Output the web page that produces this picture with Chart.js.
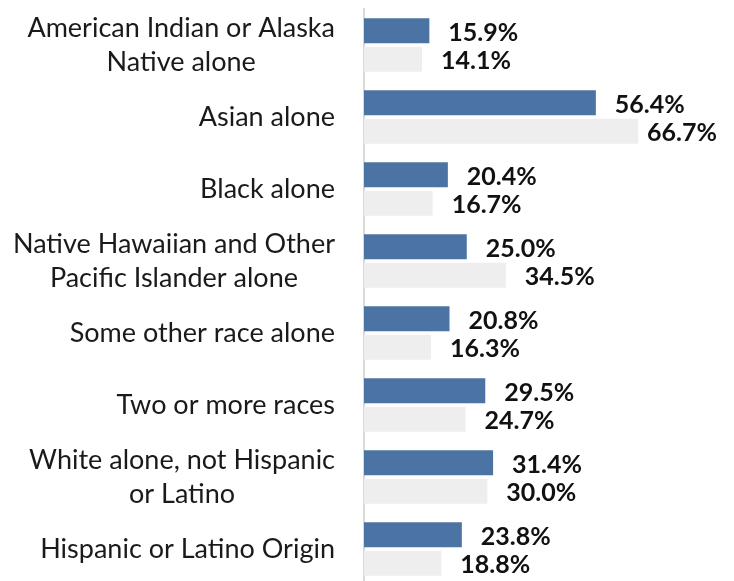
<!DOCTYPE html>
<html>
<head>
<meta charset="utf-8">
<script src="https://cdn.jsdelivr.net/npm/chart.js@4/dist/chart.umd.min.js"></script>
<style>
    html, body { margin: 0; padding: 0; background: #ffffff; overflow: hidden; }
    #wrap { position: relative; width: 734px; height: 585px; }
</style>
</head>
<body>
<div id="wrap"><canvas id="chart"></canvas></div>
<script>
const categories = [
    ['American Indian or Alaska', 'Native alone'],
    'Asian alone',
    'Black alone',
    ['Native Hawaiian and Other', 'Pacific Islander alone'],
    'Some other race alone',
    'Two or more races',
    ['White alone, not Hispanic', 'or Latino'],
    'Hispanic or Latino Origin',
];

const firstSeries = [15.9, 56.4, 20.4, 25.0, 20.8, 29.5, 31.4, 23.8];
const secondSeries = [14.1, 66.7, 16.7, 34.5, 16.3, 24.7, 30.0, 18.8];

const labelFont = '27px Lato';
const valueFont = 'bold 25px Lato';

// category names: right edge fixed, lines of a wrapped name centred on each other
const categoryLabels = {
    id: 'categoryLabels',
    afterDraw(chart) {
        let ctx = chart.ctx;
        let yScale = chart.scales.y;
        ctx.save();
        ctx.font = labelFont;
        ctx.fillStyle = '#1a1a1a';
        ctx.textAlign = 'center';
        ctx.textBaseline = 'middle';
        let right = 335;
        let lineHeight = 34;
        categories.forEach((label, i) => {
            let lines = Array.isArray(label) ? label : [label];
            let maxW = 0;
            lines.forEach(l => { maxW = Math.max(maxW, ctx.measureText(l).width); });
            let cx = right - maxW / 2;
            let y = yScale.getPixelForTick(i);
            let top = y - (lines.length - 1) * lineHeight / 2;
            lines.forEach((l, j) => {
                ctx.fillText(l, cx, top + j * lineHeight);
            });
        });
        ctx.restore();
    }
};

// percentage next to the end of each bar, pulled back if it would run off the right side
const valueLabels = {
    id: 'valueLabels',
    afterDatasetsDraw(chart) {
        let ctx = chart.ctx;
        ctx.save();
        ctx.font = valueFont;
        ctx.fillStyle = '#111111';
        ctx.textAlign = 'left';
        ctx.textBaseline = 'middle';
        let maxRight = 717;
        chart.data.datasets.forEach((dataset, d) => {
            chart.getDatasetMeta(d).data.forEach((bar, i) => {
                let text = dataset.data[i].toFixed(1) + '%';
                let w = ctx.measureText(text).width;
                let x = Math.min(bar.x + 19, maxRight - w);
                ctx.fillText(text, x, bar.y + 2);
            });
        });
        ctx.restore();
    }
};

var myChart = new Chart(
    document.getElementById('chart'),
    {
        type: 'bar',
        data: {
            labels: categories,
            datasets: [{
                data: firstSeries,
                backgroundColor: '#4b74a5',
                categoryPercentage: 0.79,
                barPercentage: 0.88,
            },
            {
                data: secondSeries,
                backgroundColor: '#eeeeee',
                categoryPercentage: 0.79,
                barPercentage: 0.88,
            }]
        },
        options: {
            indexAxis: 'y',
            responsive: true,
            maintainAspectRatio: false,
            animation: false,
            layout: {
                padding: { top: 9, right: 0, bottom: 0, left: 0 }
            },
            plugins: {
                legend: { display: false },
                tooltip: { enabled: false },
            },
            scales: {
                x: {
                    display: false,
                    min: 0,
                    max: 90,
                },
                y: {
                    grid: { display: false },
                    ticks: { display: false },
                    border: { display: true, color: '#d9d9d9', width: 2 },
                    afterFit: (scale) => { scale.width = 364; },
                }
            }
        },
        plugins: [categoryLabels, valueLabels]
    }
);
</script>
</body>
</html>
